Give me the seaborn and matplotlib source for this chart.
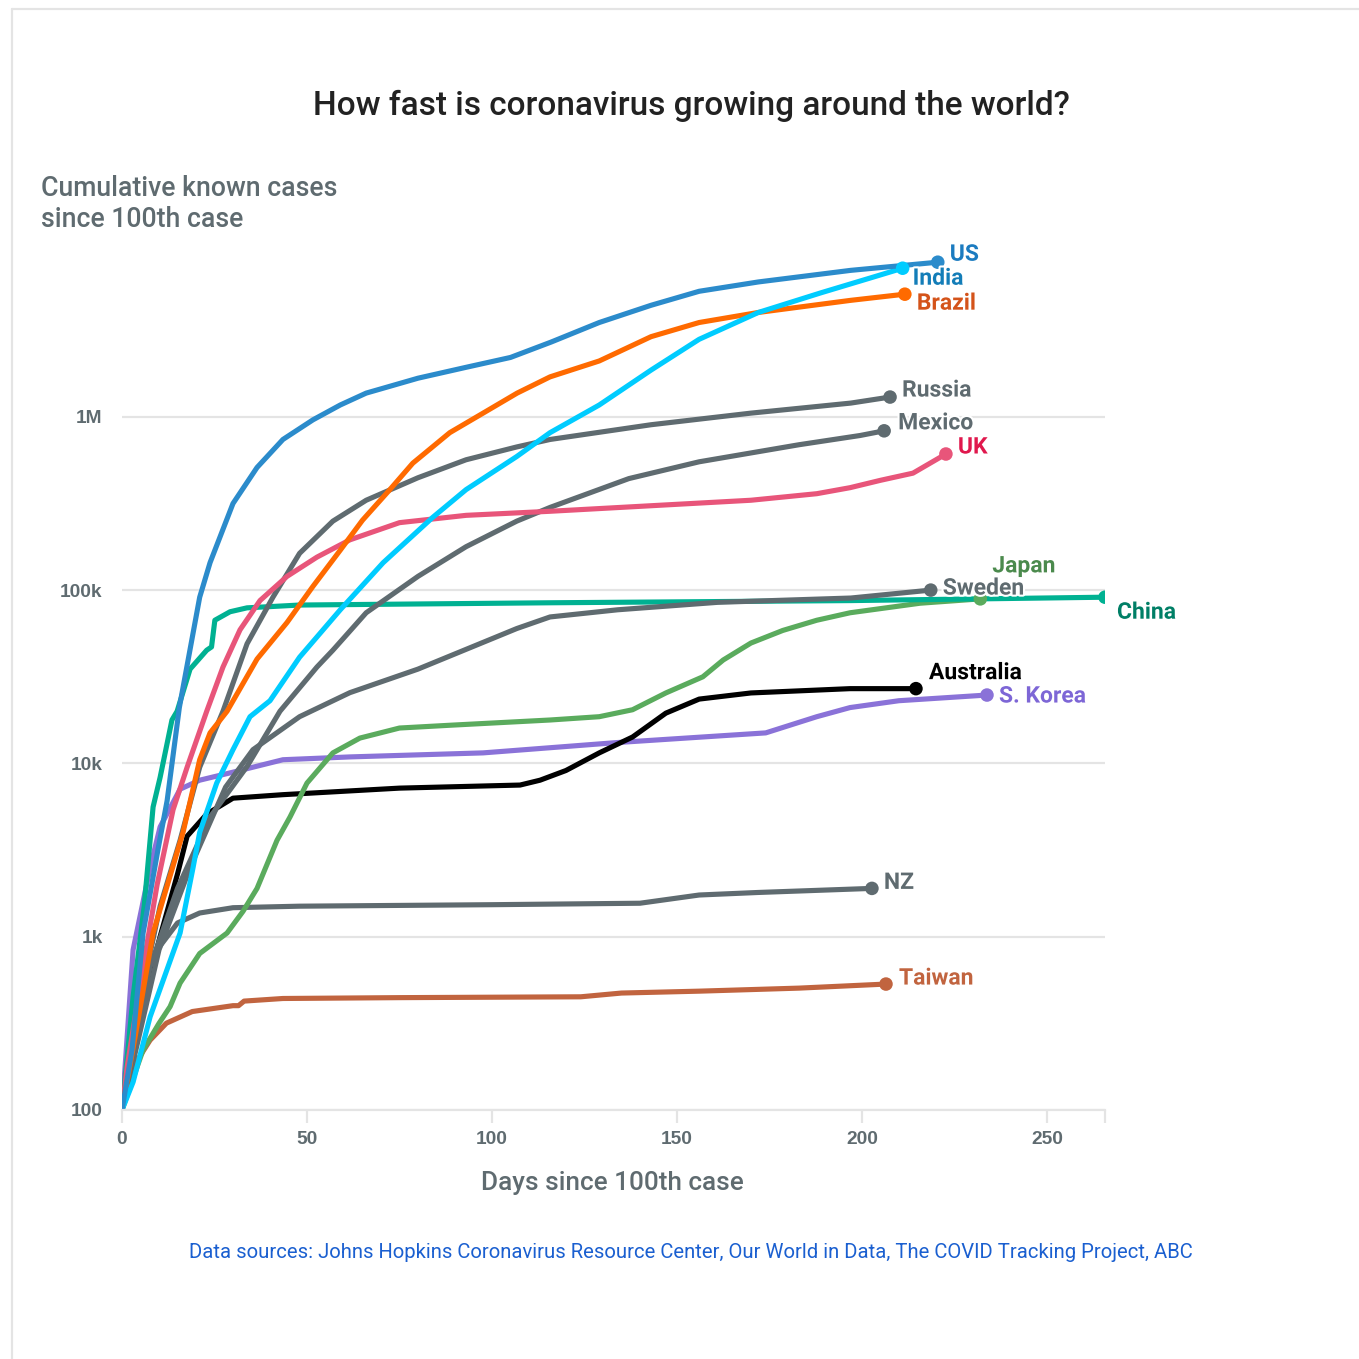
import matplotlib
matplotlib.use("Agg")
import matplotlib.pyplot as plt
import matplotlib.patheffects as pe
from matplotlib.lines import Line2D
import seaborn as sns
import pandas as pd

# ---------------- data ----------------
US_DAYS = [0, 2.7, 5.7, 9.7, 12.2, 15.5, 21, 23.8, 30, 36.5, 43.5, 51.6, 59, 66, 80, 93, 105, 116, 129, 143, 156, 172, 197, 220.5]
US_CASES = [100, 222, 1050, 3160, 6100, 21000, 91000, 144000, 316000, 510000, 740000, 960000, 1170000, 1370000,
            1670000, 1930000, 2200000, 2700000, 3500000, 4400000, 5300000, 6000000, 7000000, 7800000]

IN_DAYS = [0, 3, 7.6, 15.7, 19.2, 21, 25.6, 30, 34.6, 40, 48, 59, 70.6, 84, 93, 106.7, 115.7, 129, 143, 156, 172, 189, 202, 211]
IN_CASES = [100, 145, 345, 1050, 2500, 4000, 7700, 12000, 18600, 23000, 41000, 77000, 144000, 263000, 380000, 590000,
            810000, 1170000, 1860000, 2800000, 4000000, 5200000, 6300000, 7200000]

BR_DAYS = [0, 4, 8.4, 16.5, 21, 23.8, 28.4, 36.5, 44.6, 51.6, 59, 65, 72.4, 78.6, 88.6, 97.6, 106.8, 115.7, 129, 143, 156, 172, 197, 211.6]
BR_CASES = [100, 300, 1050, 4000, 10500, 15000, 20000, 40000, 65000, 105000, 170000, 253000, 380000, 540000, 810000,
            1050000, 1370000, 1700000, 2100000, 2900000, 3500000, 4000000, 4700000, 5100000]

RU_DAYS = [0, 4.9, 10.3, 15.7, 21, 27.3, 33.8, 40.8, 48, 57, 66, 80, 93, 106.7, 115.7, 143, 170, 197, 207.6]
RU_CASES = [100, 430, 1500, 3600, 9500, 20000, 49000, 91000, 163000, 250000, 330000, 445000, 565000, 670000, 740000,
            900000, 1050000, 1200000, 1300000]

MX_DAYS = [0, 7.6, 15, 23.8, 33.8, 42.7, 52.7, 57, 61.6, 66, 80, 93, 106.7, 115.7, 137, 156, 183, 199.5, 206]
MX_CASES = [100, 670, 1900, 4900, 9600, 20000, 36000, 45000, 58000, 74000, 120000, 178000, 250000, 300000, 440000,
            550000, 690000, 780000, 830000]

UK_DAYS = [0, 1.4, 5.7, 9.5, 13.8, 17.6, 22.9, 27.3, 31.9, 37.3, 44.6, 52.7, 61.6, 75, 93, 115.7, 170, 187.8, 196.8, 205, 213.8, 222.7]
UK_CASES = [100, 178, 670, 2000, 5400, 9500, 20000, 36000, 59000, 87000, 120000, 155000, 195000, 245000, 270000,
            285000, 330000, 360000, 390000, 430000, 473000, 610000]

JP_DAYS = [0, 5.7, 10, 13, 15.7, 21, 28.4, 32.7, 36.5, 41.9, 45.4, 50, 57, 64.3, 75, 88.6, 115.7, 129, 138, 147, 157,
           162.5, 170, 178.6, 187.8, 196.8, 215.7, 232]
JP_CASES = [100, 222, 316, 395, 540, 800, 1050, 1400, 1900, 3600, 4900, 7700, 11500, 14000, 16000, 16600, 17800, 18600,
            20400, 25500, 31600, 39500, 49500, 58500, 67000, 74000, 84000, 89000]

SE_DAYS = [0, 10, 18.4, 28, 35.4, 48, 61.6, 80, 106.7, 115.7, 134, 161, 197, 218.6]
SE_CASES = [100, 840, 2500, 7300, 12000, 18600, 25600, 35000, 60000, 70000, 77000, 85000, 90000, 100000]

CN_DAYS = [0, 3, 6, 8.4, 10.3, 13.5, 14.9, 18.4, 22.9, 24.2, 25.1, 29.2, 33.8, 48, 115.7, 197, 265.7]
CN_CASES = [100, 450, 1500, 5600, 8300, 17800, 20000, 35000, 45000, 47000, 67000, 75000, 79000, 82000, 84500, 87000, 91000]

AU_DAYS = [0, 1.4, 5.7, 10.3, 15, 17.6, 22.9, 30, 43.5, 75, 107.6, 113, 120, 129, 138, 147, 156, 170, 196.8, 214.6]
AU_CASES = [100, 170, 430, 1000, 2300, 3800, 5100, 6300, 6600, 7200, 7500, 8000, 9100, 11500, 14200, 19500, 23500,
            25500, 27000, 27000]

KR_DAYS = [0, 1, 3, 7.6, 10.3, 15.7, 21, 30, 43.5, 61.6, 97.6, 134, 174, 187.8, 196.8, 210, 233.8]
KR_CASES = [100, 200, 840, 2500, 4300, 7100, 8000, 8900, 10500, 10900, 11500, 13200, 15000, 18600, 21000, 23000, 24800]

NZ_DAYS = [0, 5.7, 9.5, 15, 21, 30, 48, 100, 140, 156, 172, 202.7]
NZ_CASES = [100, 430, 840, 1200, 1370, 1470, 1500, 1530, 1560, 1740, 1800, 1900]

TW_DAYS = [0, 3, 7.6, 12, 19, 30, 31.5, 33, 43.5, 75, 124, 135, 156, 183, 206.5]
TW_CASES = [100, 177, 253, 317, 370, 400, 400, 425, 440, 445, 450, 473, 485, 505, 533]

COUNTRIES = ["Taiwan", "NZ", "S. Korea", "Australia", "Japan", "China", "Sweden", "Mexico", "Russia", "UK",
             "Brazil", "India", "US"]
SERIES = {
    "US": (US_DAYS, US_CASES), "India": (IN_DAYS, IN_CASES), "Brazil": (BR_DAYS, BR_CASES),
    "Russia": (RU_DAYS, RU_CASES), "Mexico": (MX_DAYS, MX_CASES), "UK": (UK_DAYS, UK_CASES),
    "Japan": (JP_DAYS, JP_CASES), "Sweden": (SE_DAYS, SE_CASES), "China": (CN_DAYS, CN_CASES),
    "Australia": (AU_DAYS, AU_CASES), "S. Korea": (KR_DAYS, KR_CASES), "NZ": (NZ_DAYS, NZ_CASES),
    "Taiwan": (TW_DAYS, TW_CASES),
}

Y_TICKS = [100, 1000, 10000, 100000, 1000000]
Y_TICK_LABELS = ["100", "1k", "10k", "100k", "1M"]
X_TICKS = [0, 50, 100, 150, 200, 250]

# ---------------- styles ----------------
GREY = "#5f6b70"
LINE_COLORS = {
    "US": "#2b8bcb", "India": "#00ccff", "Brazil": "#ff6a00", "Russia": GREY, "Mexico": GREY,
    "UK": "#e8557a", "Japan": "#5aab5d", "Sweden": GREY, "China": "#00b192", "Australia": "#000000",
    "S. Korea": "#8a72d8", "NZ": GREY, "Taiwan": "#c1643f",
}
LABEL_COLORS = {
    "US": "#1b7bc0", "India": "#137db8", "Brazil": "#d4531a", "Russia": GREY, "Mexico": GREY,
    "UK": "#e0184d", "Japan": "#4b8a4d", "Sweden": GREY, "China": "#007f66", "Australia": "#000000",
    "S. Korea": "#7d66d6", "NZ": GREY, "Taiwan": "#c1643f",
}
LABEL_OFFSETS = {  # pixel offsets of label from end point
    "US": (12, 8), "India": (10, -10), "Brazil": (12, -9), "Russia": (12, 7), "Mexico": (14, 8),
    "UK": (12, 7), "Japan": (12, 33), "Sweden": (12, 2), "China": (12, -15), "Australia": (13, 16),
    "S. Korea": (12, -1), "NZ": (12, 6), "Taiwan": (13, 6),
}

rows = []
for c in COUNTRIES:
    d, v = SERIES[c]
    for di, vi in zip(d, v):
        rows.append({"country": c, "day": di, "cases": vi})
df = pd.DataFrame(rows)
ends = df.groupby("country", sort=False).tail(1)

sns.set_theme(style="white")
plt.rcParams["font.family"] = ["Roboto", "DejaVu Sans"]

W = H = 1359
fig = plt.figure(figsize=(W / 100, H / 100), dpi=100)
fig.patch.set_facecolor("white")

# frame (top and left edges)
fig.add_artist(Line2D([12 / W, 12 / W], [0, 1 - 9 / H], color="#e4e4e4", lw=1.6, transform=fig.transFigure))
fig.add_artist(Line2D([12 / W, 1], [1 - 9 / H, 1 - 9 / H], color="#e4e4e4", lw=1.6, transform=fig.transFigure))

left, right, bottom_px, top_px = 122, 1105, 1110, 243.5
ax = fig.add_axes([left / W, 1 - bottom_px / H, (right - left) / W, (bottom_px - top_px) / H])

sns.lineplot(data=df, x="day", y="cases", hue="country", hue_order=COUNTRIES, palette=LINE_COLORS,
             estimator=None, sort=False, linewidth=3.7, legend=False, ax=ax,
             solid_capstyle="round", solid_joinstyle="round")
sns.scatterplot(data=ends, x="day", y="cases", hue="country", hue_order=COUNTRIES, palette=LINE_COLORS,
                s=95, linewidth=0, legend=False, ax=ax, zorder=5)

ax.set_yscale("log")
ax.set_ylim(100, 1e7)
ax.set_xlim(0, 265.7)
ax.set_yticks(Y_TICKS)
ax.set_yticklabels(Y_TICK_LABELS)
ax.minorticks_off()
ax.set_xticks(X_TICKS + [265.7])
ax.set_xticklabels([str(t) for t in X_TICKS] + [""])
ax.grid(axis="y", color="#e4e4e4", linewidth=1.6)
ax.grid(axis="x", visible=False)
for s in ["left", "right", "top"]:
    ax.spines[s].set_visible(False)
ax.spines["bottom"].set_color("#e4e4e4")
ax.spines["bottom"].set_linewidth(1.6)
ax.tick_params(axis="y", length=9, width=1.6, color="#e4e4e4", pad=5, labelsize=13.8, labelcolor=GREY)
ax.tick_params(axis="x", length=9, width=1.6, color="#e4e4e4", pad=6, labelsize=13.8, labelcolor=GREY,
               bottom=True, direction="out")
for lbl in ax.get_yticklabels() + ax.get_xticklabels():
    lbl.set_fontfamily(["Liberation Sans", "DejaVu Sans"])
    lbl.set_fontweight("bold")
ax.set_xlabel("")
ax.set_ylabel("")
ax.set_facecolor("white")
ax.set_axisbelow(True)

for _, r in ends.iterrows():
    c = r["country"]
    dx, dy = LABEL_OFFSETS[c]
    ax.annotate(c, xy=(r["day"], r["cases"]), xytext=(dx, dy), textcoords="offset pixels",
                ha="left", va="center", fontsize=16.5, fontweight="bold", color=LABEL_COLORS[c],
                path_effects=[pe.withStroke(linewidth=3, foreground="white")], zorder=6,
                annotation_clip=False)

fig.text(691 / W, 1 - 105.5 / H, "How fast is coronavirus growing around the world?", ha="center", va="center",
         fontsize=24, fontweight="medium", color="#222222")
fig.text(41 / W, 1 - 204 / H, "Cumulative known cases\nsince 100th case", ha="left", va="center",
         fontsize=19.2, color=GREY, linespacing=1.15, fontweight="medium")
fig.text(612 / W, 1 - 1183 / H, "Days since 100th case", ha="center", va="center", fontsize=18.8,
         color=GREY, fontweight="medium")
fig.text(691 / W, 1 - 1252 / H,
         "Data sources: Johns Hopkins Coronavirus Resource Center, Our World in Data, The COVID Tracking Project, ABC",
         ha="center", va="center", fontsize=14.6, color="#1a5fd0")

fig.savefig("out.png", dpi=100, facecolor="white")
